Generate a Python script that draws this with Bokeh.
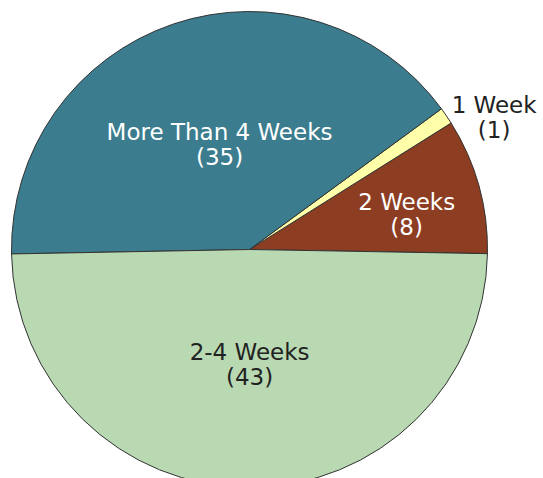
import math
from bokeh.plotting import figure
from bokeh.models import Range1d, ColumnDataSource
from bokeh.core.properties import value
from bokeh.embed import file_html
from bokeh.resources import INLINE

# ---- data ----
categories = ["2 Weeks", "1 Week", "More Than 4 Weeks", "2-4 Weeks"]
counts = [8, 1, 35, 43]

# ---- styling / layout ----
colors = ["#8c3d22", "#ffffaa", "#3b7d8e", "#b9d9b3"]
label_colors = ["#ffffff", "#222222", "#ffffff", "#222222"]
label_radius = [161, 278, 109, 115]          # px from centre
label_angle_nudge = [-3.0, -5.8, -2.7, 0.0]  # degrees
start_offset_deg = -1.0

W, H = 543, 478
cx, cy, R = 249, H - 249, 238

total = sum(counts)
starts, ends, mids = [], [], []
acc = start_offset_deg
for c in counts:
    a0 = acc
    a1 = acc + 360.0 * c / total
    starts.append(math.radians(a0))
    ends.append(math.radians(a1))
    mids.append((a0 + a1) / 2.0)
    acc = a1

lx, ly, texts = [], [], []
for i, cat in enumerate(categories):
    ang = math.radians(mids[i] + label_angle_nudge[i])
    lx.append(cx + label_radius[i] * math.cos(ang))
    ly.append(cy + label_radius[i] * math.sin(ang))
    texts.append(f"{cat}\n({counts[i]})")

src = ColumnDataSource(dict(start=starts, end=ends, color=colors))
lsrc = ColumnDataSource(dict(x=lx, y=ly, text=texts, color=label_colors))

p = figure(width=W, height=H, x_range=Range1d(0, W), y_range=Range1d(0, H),
           output_backend="svg", toolbar_location=None, min_border=0)
p.axis.visible = False
p.grid.visible = False
p.outline_line_color = None
p.background_fill_color = "white"
p.border_fill_color = "white"

p.wedge(x=cx, y=cy, radius=R, start_angle="start", end_angle="end",
        direction="anticlock", fill_color="color", line_color="#333333",
        line_width=1, source=src)

p.text(x="x", y="y", text="text", text_color="color", source=lsrc,
       text_font=value("DejaVu Sans"), text_font_size="23px",
       text_align="center", text_baseline="middle", text_line_height=0.98)

open("out.html", "w").write(file_html(p, INLINE))
